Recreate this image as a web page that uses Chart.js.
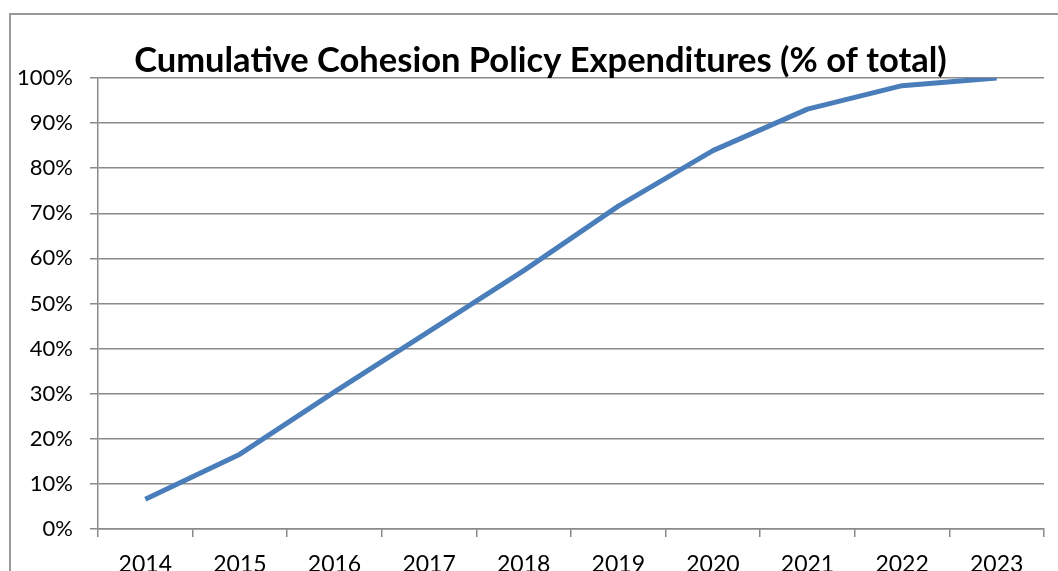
<!DOCTYPE html>
<html>
<head>
<meta charset="utf-8">
<script src="https://cdn.jsdelivr.net/npm/chart.js@4"></script>
<style>
  html, body { margin: 0; padding: 0; background: #fff; overflow: hidden; }
  body { width: 1058px; height: 571px; position: relative; }
  #frame { position: absolute; left: 9px; top: 13px; width: 1100px; height: 600px; border: 2px solid #9a9a9a; }
  #wrap { position: absolute; left: 0; top: 0; width: 1058px; height: 571px; }
</style>
</head>
<body>
<div id="frame"></div>
<div id="wrap"><canvas id="cohesionChart"></canvas></div>
<script>
// years on the x axis
const years = ['2014', '2015', '2016', '2017', '2018', '2019', '2020', '2021', '2022', '2023'];
// cumulative share of total spending, in %
const cumulativeShare = [6.6, 16.6, 30.4, 43.8, 57.3, 71.6, 83.9, 93.1, 98.3, 100];
// y axis ticks
const yTicks = [0, 10, 20, 30, 40, 50, 60, 70, 80, 90, 100];

const chartTitle = 'Cumulative Cohesion Policy Expenditures (% of total)';
const gridColor = '#8a8a8a';
const fontFamily = 'Lato, "Open Sans", sans-serif';

// title sits a little right of the canvas centre in the original, so draw it ourselves
const titlePlugin = {
    id: 'offsetTitle',
    afterDraw(chart) {
        const c = chart.ctx;
        c.save();
        c.font = 'bold 34.5px ' + fontFamily;
        c.fillStyle = '#000';
        c.textAlign = 'center';
        c.textBaseline = 'alphabetic';
        c.fillText(chartTitle, 540.5, 71.5);
        c.restore();
    }
};

const ctx = document.getElementById('cohesionChart').getContext('2d');

new Chart(ctx, {
    type: 'line',
    data: {
        labels: years,
        datasets: [{
            data: cumulativeShare,
            borderColor: '#4a7ebb',
            borderWidth: 5,
            borderCapStyle: 'butt',
            borderJoinStyle: 'round',
            tension: 0,
            pointRadius: 0,
            fill: false
        }]
    },
    plugins: [titlePlugin],
    options: {
        responsive: true,
        maintainAspectRatio: false,
        animation: false,
        layout: { padding: { left: 0, right: 14, top: 78, bottom: 0 } },
        plugins: {
            legend: { display: false },
            tooltip: { enabled: false },
            title: { display: false }
        },
        scales: {
            x: {
                offset: true,
                grid: {
                    offset: true,
                    drawOnChartArea: false,
                    color: gridColor,
                    lineWidth: 1.5,
                    tickLength: 8
                },
                border: { color: gridColor, width: 1.5 },
                ticks: {
                    color: '#000',
                    padding: 14,
                    maxRotation: 0,
                    font: { family: fontFamily, size: 23 }
                },
                afterFit: scale => { scale.height = 42; }
            },
            y: {
                min: 0,
                max: 100,
                afterBuildTicks: scale => { scale.ticks = yTicks.map(v => ({ value: v })); },
                grid: {
                    color: gridColor,
                    lineWidth: 1.5,
                    tickLength: 8
                },
                border: { color: gridColor, width: 1.5 },
                ticks: {
                    color: '#000',
                    padding: 17,
                    font: { family: fontFamily, size: 22 },
                    callback: v => v + '%'
                },
                afterFit: scale => { scale.width = 98; }
            }
        }
    }
});
</script>
</body>
</html>
